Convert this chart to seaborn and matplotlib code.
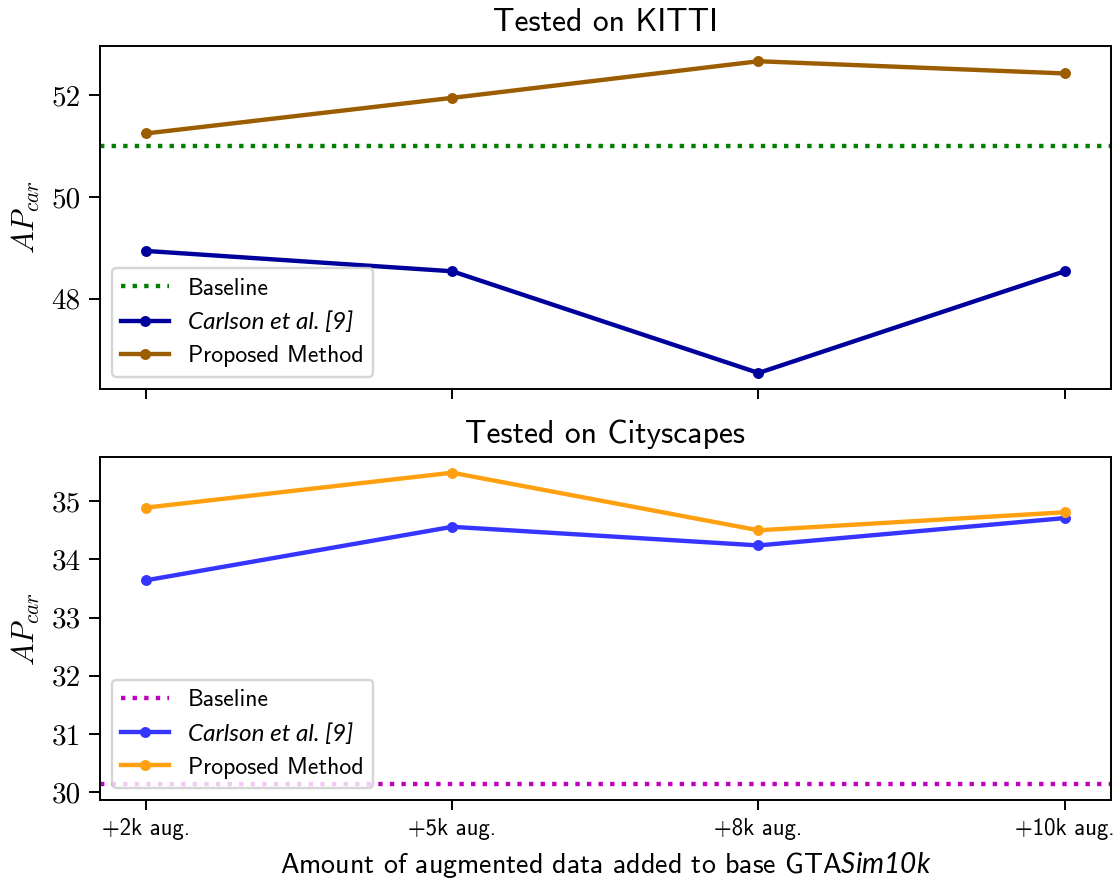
import matplotlib
matplotlib.use("Agg")
import matplotlib.pyplot as plt
import seaborn as sns
import pandas as pd
from matplotlib.ticker import FormatStrFormatter

# ---- data ----
categories = ["+2k aug.", "+5k aug.", "+8k aug.", "+10k aug."]
kitti_carlson = [48.94, 48.54, 46.54, 48.54]
kitti_proposed = [51.25, 51.95, 52.67, 52.43]
kitti_baseline = 51.0
city_carlson = [33.64, 34.56, 34.24, 34.71]
city_proposed = [34.89, 35.49, 34.50, 34.81]
city_baseline = 30.13
kitti_yticks = [48, 50, 52]
city_yticks = [30, 31, 32, 33, 34, 35]
titles = ["Tested on KITTI", "Tested on Cityscapes"]
series_labels = ["Baseline", "Carlson et al. [9]", "Proposed Method"]

plt.rcParams["mathtext.fontset"] = "custom"
plt.rcParams["mathtext.rm"] = "Lato:italic"
plt.rcParams["mathtext.it"] = "Lato:italic"
plt.rcParams["font.family"] = ["cmss10", "DejaVu Sans"]
plt.rcParams["axes.unicode_minus"] = False
plt.rcParams["xtick.major.size"] = 4.0
plt.rcParams["ytick.major.size"] = 4.4

fig, axes = plt.subplots(2, 1, sharex=True, figsize=(6.4, 878 / 175), dpi=175)
fig.subplots_adjust(left=0.0893, right=0.9917, top=0.948, bottom=0.0888, hspace=0.2)

panels = [
    (axes[0], kitti_baseline, kitti_carlson, kitti_proposed, kitti_yticks,
     "g", "#00009c", "#9c5c00"),
    (axes[1], city_baseline, city_carlson, city_proposed, city_yticks,
     "m", "#3535ff", "#ffa010"),
]

for i, (ax, base, carl, prop, yt, cb, cc, cp) in enumerate(panels):
    ax.axhline(base, color=cb, linestyle=":", linewidth=1.8, label=series_labels[0])
    df_c = pd.DataFrame({"x": categories, "y": carl})
    df_p = pd.DataFrame({"x": categories, "y": prop})
    sns.lineplot(data=df_c, x="x", y="y", ax=ax, color=cc, marker="o",
                 markersize=4.5, markeredgewidth=0, linewidth=1.8,
                 label=series_labels[1], sort=False)
    sns.lineplot(data=df_p, x="x", y="y", ax=ax, color=cp, marker="o",
                 markersize=4.5, markeredgewidth=0, linewidth=1.8,
                 label=series_labels[2], sort=False)
    ax.set_title(titles[i], fontsize=13, family="cmss10")
    ax.set_yticks(yt)
    ax.yaxis.set_major_formatter(FormatStrFormatter("%d"))
    for t in ax.get_yticklabels():
        t.set_fontfamily("cmr10")
        t.set_fontsize(12)
    ax.set_ylabel(r"$AP_{car}$", fontsize=12.5, math_fontfamily="cm")
    ax.set_xlabel("")
    leg = ax.legend(loc="lower left", fontsize=9.8)
    lt = leg.get_texts()[1]
    lt.set_fontfamily("Lato")
    lt.set_fontstyle("italic")
    lt.set_fontsize(10)

axes[1].set_xlabel(r"Amount of augmented data added to base GTA$Sim10k$", fontsize=11.5)
for t in axes[1].get_xticklabels():
    t.set_fontsize(9.4)
    t.set_fontfamily("cmss10")

fig.savefig("out.png", dpi=175)
